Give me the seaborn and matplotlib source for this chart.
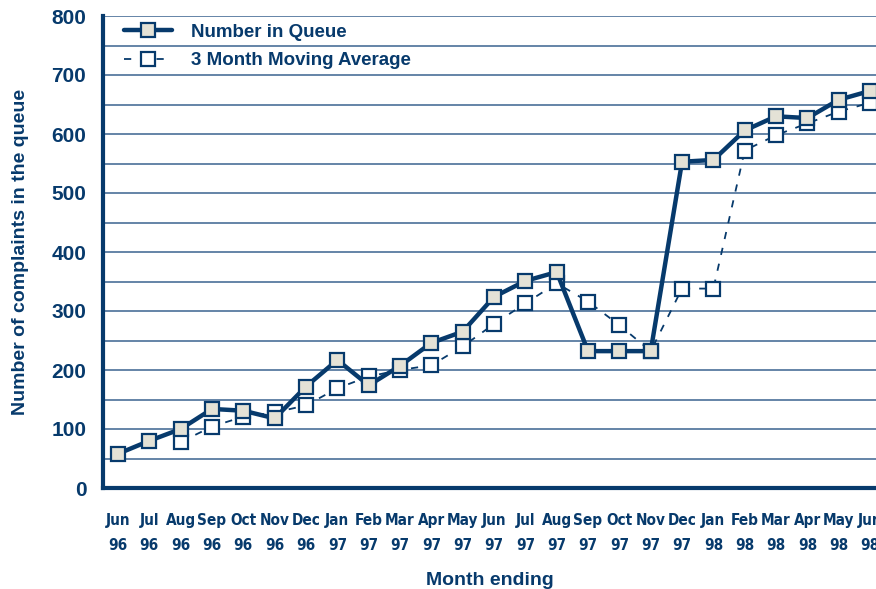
import numpy as np
import pandas as pd
import matplotlib
matplotlib.use("Agg")
import matplotlib.pyplot as plt
from matplotlib import font_manager as fm
import seaborn as sns

# data
months = ["Jun\n96", "Jul\n96", "Aug\n96", "Sep\n96", "Oct\n96", "Nov\n96", "Dec\n96",
          "Jan\n97", "Feb\n97", "Mar\n97", "Apr\n97", "May\n97", "Jun\n97", "Jul\n97",
          "Aug\n97", "Sep\n97", "Oct\n97", "Nov\n97", "Dec\n97", "Jan\n98", "Feb\n98",
          "Mar\n98", "Apr\n98", "May\n98", "Jun\n98"]
queue = [58, 80, 100, 134, 131, 118, 172, 217, 174, 207, 246, 265, 324, 351,
         366, 232, 232, 232, 553, 556, 606, 630, 627, 658, 673]
# moving average starts at Aug 96
moving_avg = [78, 104, 121, 128, 140, 169, 189, 200, 208, 240, 278, 313,
              347, 316, 276, 232, 338, 338, 572, 598, 618, 638, 653]

navy = "#073a6c"
grid_col = "#4a6f98"
fill_col = "#e4e2d6"

sns.set_style("white")
plt.rcParams["font.family"] = ["Liberation Sans", "DejaVu Sans"]

# look for a narrow bold font for the month labels
narrow = [f for f in fm.fontManager.ttflist
          if f.weight in (700, "bold") and ("Narrow" in f.name or "Condensed" in f.fname
                                             or f.stretch in ("condensed", "semi-condensed", 75, 87.5))]
if narrow:
    tick_font = fm.FontProperties(fname=narrow[0].fname, size=11)
else:
    tick_font = fm.FontProperties(family="DejaVu Sans", weight="bold", size=9.5)

df_q = pd.DataFrame({"x": np.arange(len(queue)), "y": queue})
df_m = pd.DataFrame({"x": np.arange(2, 2 + len(moving_avg)), "y": moving_avg})

fig = plt.figure(figsize=(8.76, 5.89), dpi=100)
ax = fig.add_axes([103 / 876, 1 - 488 / 589, 1 - 103 / 876, (488 - 16) / 589])

sns.lineplot(data=df_m, x="x", y="y", ax=ax, color=navy, lw=1.3,
             linestyle=(0, (4, 5)), marker="s", markersize=10,
             markerfacecolor="white", markeredgecolor=navy, markeredgewidth=1.6,
             label="3 Month Moving Average", zorder=3)
sns.lineplot(data=df_q, x="x", y="y", ax=ax, color=navy, lw=3.2,
             marker="s", markersize=10.5,
             markerfacecolor=fill_col, markeredgecolor=navy, markeredgewidth=1.6,
             label="Number in Queue", zorder=4)

ax.set_ylim(0, 800)
ax.set_xlim(-0.48, 24.19)
ax.set_yticks(range(0, 801, 100))
ax.set_yticks(range(50, 800, 100), minor=True)
ax.yaxis.grid(True, which="both", color=grid_col, lw=1.2)
ax.set_axisbelow(True)
ax.set_xticks(range(len(months)))
ax.set_xticklabels(months, color=navy, fontproperties=tick_font, linespacing=1.8)
for lab in ax.get_yticklabels():
    lab.set_fontsize(15)
    lab.set_fontweight("bold")
    lab.set_color(navy)
ax.tick_params(axis="x", length=0, pad=18)
ax.tick_params(axis="y", which="both", length=0, pad=12)

for s in ["top", "right"]:
    ax.spines[s].set_visible(False)
ax.spines["left"].set_color(navy)
ax.spines["left"].set_linewidth(3)
ax.spines["bottom"].set_color(navy)
ax.spines["bottom"].set_linewidth(3)

ax.set_xlabel("Month ending", fontsize=14, fontweight="bold", color=navy, labelpad=14)
ax.set_ylabel("Number of complaints in the queue", fontsize=14, fontweight="bold",
              color=navy, labelpad=16)

handles, labels = ax.get_legend_handles_labels()
leg = ax.legend(handles[::-1], labels[::-1], loc="upper left", frameon=False,
                bbox_to_anchor=(0.005, 1.02), handlelength=2.6, handletextpad=1.0,
                labelspacing=0.62, prop={"weight": "bold", "size": 13.5})
for t in leg.get_texts():
    t.set_color(navy)

fig.savefig("out.png", dpi=100)
